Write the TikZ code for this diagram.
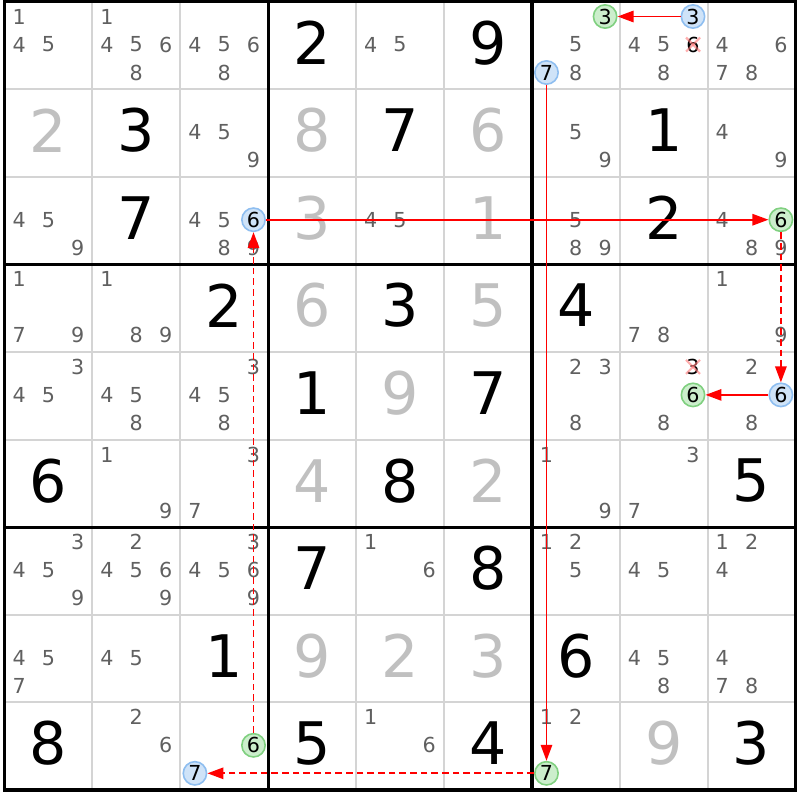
\documentclass[tikz,border=0pt]{standalone}
\usepackage{fontspec}
\setmainfont{DejaVu Sans}
\usetikzlibrary{arrows.meta}
\definecolor{candc}{RGB}{96,96,96}
\definecolor{solvc}{RGB}{192,192,192}
\definecolor{gridc}{RGB}{212,212,212}
\definecolor{bluef}{RGB}{207,227,248}
\definecolor{blueb}{RGB}{142,190,240}
\definecolor{greenf}{RGB}{204,238,204}
\definecolor{greenb}{RGB}{128,208,128}
\definecolor{linkc}{RGB}{255,0,0}
\definecolor{elimc}{RGB}{255,120,120}
\tikzset{
  candfont/.style={font=\fontsize{15.5}{18}\selectfont},
  cand/.style={candfont, text=candc, inner sep=0pt},
  candk/.style={candfont, text=black, inner sep=0pt},
  bluecirc/.style={candfont, circle, draw=blueb, fill=bluef, line width=1.2pt, minimum size=17.5pt, inner sep=0pt, text=black},
  greencirc/.style={candfont, circle, draw=greenb, fill=greenf, line width=1.2pt, minimum size=17.5pt, inner sep=0pt, text=black},
  given/.style={font=\fontsize{44}{50}\selectfont, text=black, inner sep=0pt},
  solved/.style={given, text=solvc},
  strong/.style={draw=linkc, line width=1.45pt, -{Triangle[length=12pt,width=8.5pt]}},
  weak/.style={strong, dash pattern=on 5pt off 3pt},
  elim/.style={draw=elimc, opacity=0.6, line width=1.6pt},
  thingrid/.style={draw=gridc, line width=1.5pt},
  thickgrid/.style={draw=black, line width=2.4pt},
}
\newcommand{\CandNode}[5]{%
  \node[#1] (#2) at ({4.5+87.9*#4+14.6+29.3*mod(#5-1,3)},{1.5+87.6*#3+15+28*floor((#5-1)/3)}) {#5};}
\newcommand{\Cands}[3]{\foreach \d in {#3}{\CandNode{cand}{c#1#2\d}{#1}{#2}{\d}}}
\newcommand{\GivenD}[3]{\node[given] (g#1#2) at ({4.5+87.9*#2+43.95},{1.5+87.6*#1+41.3}) {#3};}
\newcommand{\SolvedD}[3]{\node[solved] (s#1#2) at ({4.5+87.9*#2+43.95},{1.5+87.6*#1+41.3}) {#3};}
\begin{document}
\begin{tikzpicture}[x=0.75pt,y=-0.75pt]
\useasboundingbox (0,0) rectangle (800,800);
\fill[white] (0,0) rectangle (800,800);
% thin grid
\foreach \i in {1,2,4,5,7,8}{
  \draw[thingrid] ({4.5+87.9*\i},1.5) -- ({4.5+87.9*\i},789.9);
  \draw[thingrid] (4.5,{1.5+87.6*\i}) -- (795.6,{1.5+87.6*\i});
}
\foreach \i in {0,3,6,9}{
  \draw[thickgrid] ({4.5+87.9*\i},0.3) -- ({4.5+87.9*\i},791.1);
  \draw[thickgrid] (3.3,{1.5+87.6*\i}) -- (796.8,{1.5+87.6*\i});
}
% big digits
\GivenD{0}{3}{2}\GivenD{0}{5}{9}
\SolvedD{1}{0}{2}\GivenD{1}{1}{3}\SolvedD{1}{3}{8}\GivenD{1}{4}{7}\SolvedD{1}{5}{6}\GivenD{1}{7}{1}
\GivenD{2}{1}{7}\SolvedD{2}{3}{3}\SolvedD{2}{5}{1}\GivenD{2}{7}{2}
\GivenD{3}{2}{2}\SolvedD{3}{3}{6}\GivenD{3}{4}{3}\SolvedD{3}{5}{5}\GivenD{3}{6}{4}
\GivenD{4}{3}{1}\SolvedD{4}{4}{9}\GivenD{4}{5}{7}
\GivenD{5}{0}{6}\SolvedD{5}{3}{4}\GivenD{5}{4}{8}\SolvedD{5}{5}{2}\GivenD{5}{8}{5}
\GivenD{6}{3}{7}\GivenD{6}{5}{8}
\GivenD{7}{2}{1}\SolvedD{7}{3}{9}\SolvedD{7}{4}{2}\SolvedD{7}{5}{3}\GivenD{7}{6}{6}
\GivenD{8}{0}{8}\GivenD{8}{3}{5}\GivenD{8}{5}{4}\SolvedD{8}{7}{9}\GivenD{8}{8}{3}
% candidates
\Cands{0}{0}{1,4,5}\Cands{0}{1}{1,4,5,6,8}\Cands{0}{2}{4,5,6,8}\Cands{0}{4}{4,5}
\Cands{0}{6}{5,8}\Cands{0}{7}{4,5,8}\Cands{0}{8}{4,6,7,8}
\Cands{1}{2}{4,5,9}\Cands{1}{6}{5,9}\Cands{1}{8}{4,9}
\Cands{2}{0}{4,5,9}\Cands{2}{2}{4,5,8,9}\Cands{2}{4}{4,5}\Cands{2}{6}{5,8,9}\Cands{2}{8}{4,8,9}
\Cands{3}{0}{1,7,9}\Cands{3}{1}{1,8,9}\Cands{3}{7}{7,8}\Cands{3}{8}{1,9}
\Cands{4}{0}{3,4,5}\Cands{4}{1}{4,5,8}\Cands{4}{2}{3,4,5,8}\Cands{4}{6}{2,3,8}\Cands{4}{7}{8}\Cands{4}{8}{2,8}
\Cands{5}{1}{1,9}\Cands{5}{2}{3,7}\Cands{5}{6}{1,9}\Cands{5}{7}{3,7}
\Cands{6}{0}{3,4,5,9}\Cands{6}{1}{2,4,5,6,9}\Cands{6}{2}{3,4,5,6,9}\Cands{6}{4}{1,6}
\Cands{6}{6}{1,2,5}\Cands{6}{7}{4,5}\Cands{6}{8}{1,2,4}
\Cands{7}{0}{4,5,7}\Cands{7}{1}{4,5}\Cands{7}{7}{4,5,8}\Cands{7}{8}{4,7,8}
\Cands{8}{1}{2,6}\Cands{8}{4}{1,6}\Cands{8}{6}{1,2}
% eliminated candidates
\CandNode{candk}{x076}{0}{7}{6}
\CandNode{candk}{x473}{4}{7}{3}
\foreach \n in {x076,x473}{
  \draw[elim] ([shift={(-7,-7)}]\n.center) -- ([shift={(7,7)}]\n.center);
  \draw[elim] ([shift={(-7,7)}]\n.center) -- ([shift={(7,-7)}]\n.center);
}
% highlighted candidates
\CandNode{bluecirc}{B3}{0}{7}{3}
\CandNode{greencirc}{G3}{0}{6}{3}
\CandNode{bluecirc}{B7}{0}{6}{7}
\CandNode{greencirc}{G7}{8}{6}{7}
\CandNode{bluecirc}{B7b}{8}{2}{7}
\CandNode{greencirc}{G6a}{8}{2}{6}
\CandNode{bluecirc}{B6a}{2}{2}{6}
\CandNode{greencirc}{G6b}{2}{8}{6}
\CandNode{bluecirc}{B6b}{4}{8}{6}
\CandNode{greencirc}{G6c}{4}{7}{6}
% links
\draw[strong] (B3) -- (G3);
\draw[strong] (B7) -- (G7);
\draw[weak] (G7) -- (B7b);
\draw[weak] (G6a) -- (B6a);
\draw[strong] (B6a) -- (G6b);
\draw[weak] (G6b) -- (B6b);
\draw[strong] (B6b) -- (G6c);
\end{tikzpicture}
\end{document}
